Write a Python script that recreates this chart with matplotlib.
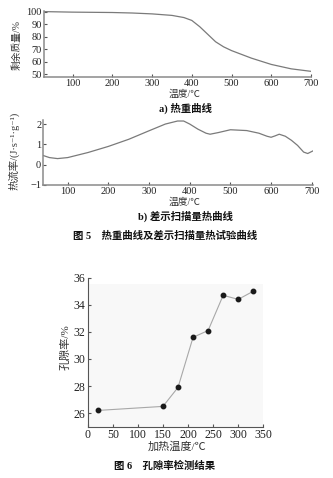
import matplotlib
matplotlib.use("Agg")
import matplotlib.pyplot as plt

plt.rcParams['font.family'] = ['Liberation Serif', 'Noto Sans CJK SC', 'DejaVu Serif']
plt.rcParams['axes.unicode_minus'] = True

# Thermogravimetric curve
tga_temp = [30, 100, 200, 250, 300, 350, 380, 400, 420, 440, 460, 480, 500, 550, 600, 650, 700]
tga_mass = [100, 99.6, 99.3, 98.9, 98.2, 97.0, 95.3, 93, 88, 82, 76, 72, 69, 63, 58, 54.5, 52.5]

# DSC heat-flow curve
dsc_temp = [40, 55, 75, 100, 150, 200, 250, 300, 340, 370, 385, 400, 420, 440, 450, 470,
            500, 540, 570, 590, 600, 610, 620, 635, 650, 665, 680, 690, 705]
dsc_flow = [0.45, 0.35, 0.3, 0.35, 0.6, 0.9, 1.25, 1.67, 2.0, 2.15, 2.15, 2.0, 1.75, 1.55, 1.5, 1.58,
            1.72, 1.68, 1.55, 1.4, 1.35, 1.42, 1.5, 1.4, 1.2, 0.95, 0.62, 0.55, 0.7]

# Porosity vs heating temperature
heat_temp = [20, 150, 180, 210, 240, 270, 300, 330]
porosity = [26.2, 26.5, 27.9, 31.6, 32.1, 34.7, 34.4, 35.0]

W, H = 333, 478
fig = plt.figure(figsize=(W / 100, H / 100), dpi=100)
fig.patch.set_facecolor('white')


def box(l, t, r, b):
    return [l / W, 1 - b / H, (r - l) / W, (b - t) / H]


def style(ax, color='#8a8a8a', lw=1.1, fs=7.5):
    for s in ['top', 'right']:
        ax.spines[s].set_visible(False)
    for s in ['left', 'bottom']:
        ax.spines[s].set_color(color)
        ax.spines[s].set_linewidth(lw)
    ax.tick_params(direction='in', length=2.5, width=0.8, color='#555555',
                   labelsize=fs, pad=1.5, labelcolor='#222222')


line_col = '#7a7a7a'
txt_col = '#333333'

# a) TGA
ax1 = fig.add_axes(box(44, 11, 311, 77))
ax1.plot(tga_temp, tga_mass, color=line_col, lw=0.9)
ax1.set_xlim(28, 700)
ax1.set_ylim(48, 100.5)
ax1.set_xticks([100, 200, 300, 400, 500, 600, 700])
ax1.set_yticks([50, 60, 70, 80, 90, 100])
style(ax1)
fig.text(17 / W, 1 - 45 / H, '剩余质量/%', rotation=90, ha='center', va='center',
         fontsize=7, color=txt_col)
fig.text(185 / W, 1 - 94 / H, '温度/℃', ha='center', va='center', fontsize=7, color=txt_col)
fig.text(185 / W, 1 - 108 / H, 'a) 热重曲线', ha='center', va='center', fontsize=7.5,
         color='#111111', fontweight='bold')

# b) DSC
ax2 = fig.add_axes(box(43.3, 120, 313, 185))
ax2.plot(dsc_temp, dsc_flow, color=line_col, lw=0.9)
ax2.set_xlim(40, 703)
ax2.set_ylim(-1, 2.2)
ax2.set_xticks([100, 200, 300, 400, 500, 600, 700])
ax2.set_yticks([-1, 0, 1, 2])
style(ax2)
fig.text(14 / W, 1 - 151 / H, '热流率/(J·s⁻¹·g⁻¹)', rotation=90, ha='center',
         va='center', fontsize=7.5, color=txt_col)
fig.text(185 / W, 1 - 202 / H, '温度/℃', ha='center', va='center', fontsize=7, color=txt_col)
fig.text(185 / W, 1 - 216 / H, 'b) 差示扫描量热曲线', ha='center', va='center', fontsize=7.5,
         color='#111111', fontweight='bold')
fig.text(165 / W, 1 - 236 / H, '图 5　热重曲线及差示扫描量热试验曲线', ha='center', va='center',
         fontsize=7.5, color='#111111', fontweight='bold')

# Porosity
ax3 = fig.add_axes(box(87.7, 277.7, 263.3, 426.7))
ax3.axhspan(25, 35.5, xmin=0, xmax=1, color='#f8f8f8', zorder=0, lw=0)
ax3.plot(heat_temp, porosity, color='#a8a8a8', lw=0.8, zorder=2)
ax3.plot(heat_temp, porosity, 'o', color='#1a1a1a', ms=3.2, zorder=3)
ax3.set_xlim(0, 350)
ax3.set_ylim(25, 36)
ax3.set_xticks([0, 50, 100, 150, 200, 250, 300, 350])
ax3.set_yticks([26, 28, 30, 32, 34, 36])
style(ax3, color='#555555', lw=0.8, fs=8.5)
fig.text(65 / W, 1 - 347 / H, '孔隙率/%', rotation=90, ha='center', va='center',
         fontsize=8, color=txt_col)
fig.text(177 / W, 1 - 447 / H, '加热温度/℃', ha='center', va='center', fontsize=8, color=txt_col)
fig.text(165 / W, 1 - 466 / H, '图 6　孔隙率检测结果', ha='center', va='center',
         fontsize=7.5, color='#111111', fontweight='bold')

fig.savefig('out.png', dpi=100, facecolor='white')
